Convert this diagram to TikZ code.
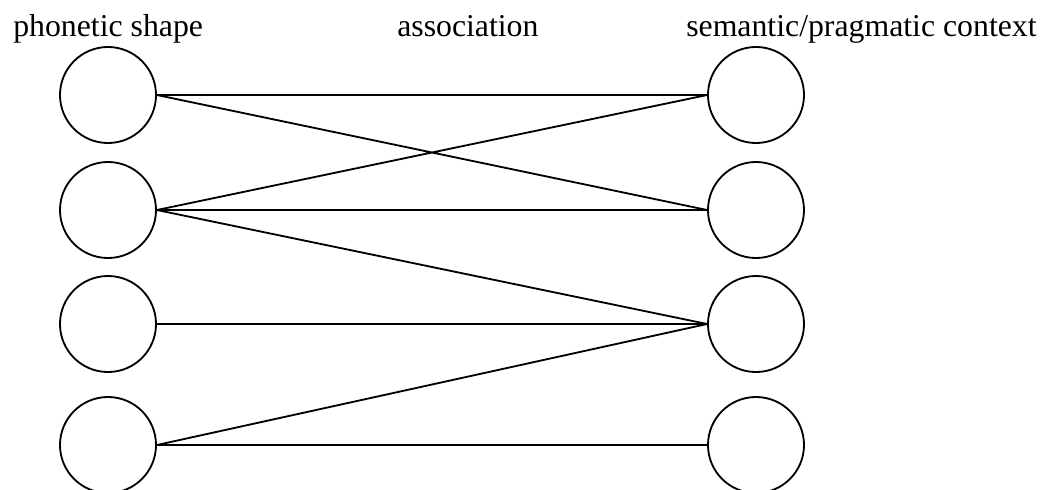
\documentclass[tikz,border=0pt]{standalone}
\usepackage{fontspec}
\setmainfont{Liberation Serif}
\begin{document}
\begin{tikzpicture}[x=0.025cm, y=-0.025cm,
  unit/.style={shape=circle, draw, line width=1.3pt, minimum size=2.4cm, inner sep=0pt},
  head/.style={anchor=base west, inner sep=0pt, font=\fontsize{22.6}{27}\selectfont}]
    \useasboundingbox (0,0) rectangle (1042,489);
    \node[head] (tphon) at (13,36) {phonetic shape};
    \node[head] (tass) at (397,36) {association};
    \node[head] (tsem) at (686,36) {semantic/pragmatic context};
    % left: phonetic shapes
    \node[unit] (p1) at (108,95) {};
    \node[unit] (p2) at (108,210) {};
    \node[unit] (p3) at (108,324) {};
    \node[unit] (p4) at (108,445) {};
    % right: contexts
    \node[unit] (s1) at (756,95) {};
    \node[unit] (s2) at (756,210) {};
    \node[unit] (s3) at (756,324) {};
    \node[unit] (s4) at (756,445) {};
    \draw[line width=1.3pt] (p1.east) -- (s1.west)
          (p1.east) -- (s2.west)
          (p2.east) -- (s1.west)
          (p2.east) -- (s2.west)
          (p2.east) -- (s3.west)
          (p3.east) -- (s3.west)
          (p4.east) -- (s3.west)
          (p4.east) -- (s4.west);
  \end{tikzpicture}
\end{document}
